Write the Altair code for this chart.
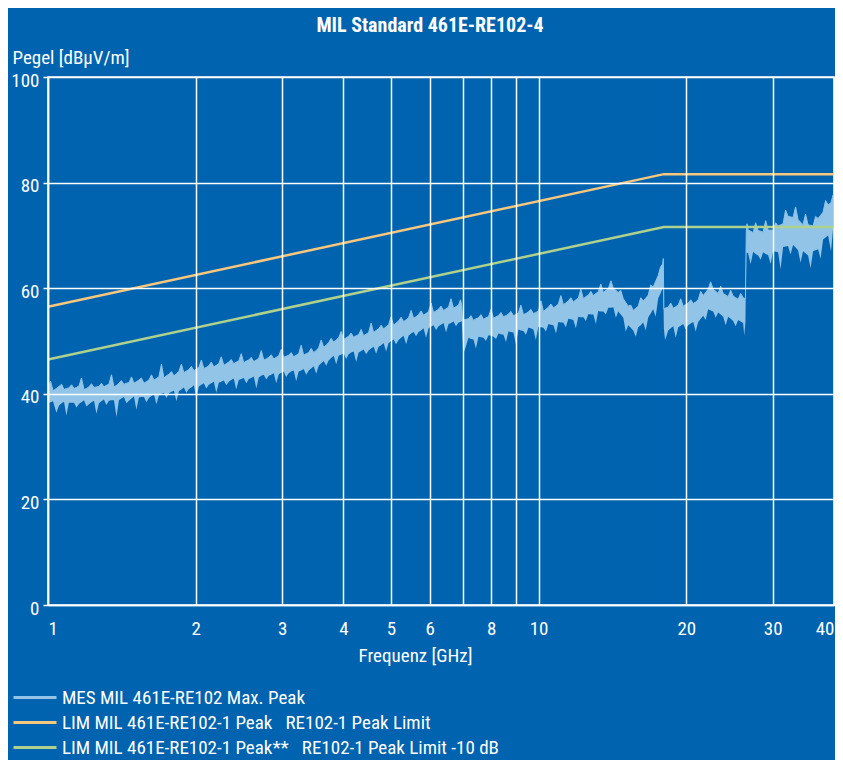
import altair as alt
import pandas as pd

# ---------------- data ----------------
# measured trace: core band (low / high envelope) in dBuV/m vs frequency in GHz
mes_freq = [
    1.000, 1.024, 1.053, 1.078, 1.103, 1.130, 1.157, 1.184, 1.212, 1.241,
    1.270, 1.300, 1.331, 1.363, 1.395, 1.428, 1.462, 1.497, 1.532, 1.569,
    1.606, 1.644, 1.683, 1.723, 1.764, 1.806, 1.848, 1.892, 1.937, 1.983,
    2.030, 2.078, 2.127, 2.178, 2.229, 2.282, 2.336, 2.391, 2.448, 2.506,
    2.566, 2.627, 2.689, 2.753, 2.818, 2.885, 2.953, 3.023, 3.094, 3.168,
    3.243, 3.320, 3.399, 3.480, 3.562, 3.647, 3.733, 3.822, 3.912, 4.005,
    4.100, 4.197, 4.297, 4.399, 4.503, 4.610, 4.719, 4.831, 4.946, 5.063,
    5.183, 5.306, 5.432, 5.561, 5.692, 5.827, 5.966, 6.107, 6.252, 6.400,
    6.552, 6.707, 6.866, 6.970,
    7.000, 7.196, 7.366, 7.541, 7.720, 7.903, 8.090, 8.282, 8.478, 8.679,
    8.885, 9.096, 9.311, 9.532, 9.758, 9.989, 10.23, 10.47, 10.72, 10.97,
    11.23, 11.50, 11.77, 12.05, 12.34, 12.63, 12.93, 13.23, 13.55, 13.87,
    14.20, 14.53, 14.88, 15.23, 15.59, 15.96, 16.34, 16.73, 17.12, 17.53,
    17.90,
    18.00, 18.37, 18.81, 19.26, 19.71, 20.18, 20.66, 21.15, 21.65, 22.16,
    22.69, 23.23, 23.78, 24.34, 24.92, 25.51, 26.11, 26.40,
    26.50, 26.73, 27.37, 28.02, 28.68, 29.36, 30.06, 30.77, 31.50, 32.24,
    33.01, 33.79, 34.59, 35.42, 36.26, 37.12, 38.00, 38.90, 40.00,
]
mes_low = [
    38.2, 38.6, 37.8, 38.5, 38.3, 38.3, 38.1, 38.8, 38.0, 38.7,
    38.2, 38.9, 38.7, 38.8, 38.8, 39.4, 38.7, 39.5, 39.3, 39.4,
    39.2, 39.9, 39.7, 40.2, 40.1, 40.6, 40.5, 41.2, 40.9, 41.6,
    41.4, 42.0, 41.7, 42.3, 42.1, 42.5, 42.3, 42.9, 42.6, 43.0,
    42.8, 43.3, 43.1, 43.6, 43.4, 43.9, 43.7, 44.2, 43.9, 44.4,
    44.2, 44.7, 44.4, 45.2, 45.3, 46.2, 46.3, 47.2, 47.2, 47.7,
    47.5, 48.0, 47.8, 48.4, 48.2, 48.9, 48.9, 49.6, 49.6, 50.3,
    50.2, 51.0, 51.0, 51.7, 51.7, 52.4, 52.4, 53.0, 52.8, 53.4,
    53.2, 53.7, 53.5, 53.8,
    50.2, 50.6, 50.3, 50.8, 50.6, 51.1, 50.8, 51.4, 51.2, 51.8,
    51.6, 52.2, 51.9, 52.5, 52.2, 52.7, 52.5, 53.2, 53.0, 53.6,
    53.5, 54.2, 54.0, 54.6, 54.5, 55.1, 55.0, 55.7, 55.6, 56.3,
    56.4, 55.6, 54.4, 53.0, 52.0, 52.6, 53.5, 54.5, 56.0, 58.1,
    60.0,
    52.4, 52.0, 52.8, 52.6, 53.2, 53.0, 53.6, 53.6, 54.8, 56.0,
    55.6, 55.4, 54.6, 54.6, 53.8, 54.0, 53.4, 53.6,
    66.8, 66.6, 66.9, 66.2, 66.8, 66.3, 67.0, 66.8, 67.8, 68.0,
    68.2, 67.2, 67.0, 66.2, 67.0, 67.4, 69.2, 70.0, 72.0,
]
mes_high = [
    41.0, 40.6, 41.4, 40.8, 41.1, 41.0, 41.5, 40.8, 41.3, 41.2,
    41.4, 41.3, 41.8, 41.3, 42.0, 41.8, 42.1, 42.0, 42.6, 42.0,
    42.6, 42.6, 43.2, 43.0, 43.7, 43.4, 44.2, 44.0, 44.6, 44.4,
    45.0, 44.8, 45.3, 45.1, 45.7, 45.4, 46.0, 45.7, 46.2, 45.9,
    46.4, 46.1, 46.7, 46.4, 46.9, 46.6, 47.2, 46.9, 47.3, 47.0,
    47.6, 47.3, 47.8, 47.8, 48.7, 48.8, 49.7, 49.8, 50.6, 50.3,
    50.9, 50.7, 51.2, 51.0, 51.6, 51.6, 52.3, 52.3, 53.1, 53.0,
    53.8, 53.7, 54.4, 54.3, 55.0, 54.9, 55.6, 55.4, 56.0, 55.8,
    56.4, 56.2, 56.8, 56.8,
    54.0, 54.2, 53.9, 54.4, 54.1, 54.6, 54.3, 54.8, 54.6, 55.1,
    54.8, 55.3, 55.0, 55.5, 55.2, 55.7, 55.6, 56.4, 56.3, 57.0,
    56.9, 57.6, 57.4, 58.1, 58.0, 58.7, 58.6, 59.3, 59.2, 59.9,
    60.0, 59.2, 58.0, 56.6, 55.8, 56.6, 57.6, 58.7, 60.2, 62.4,
    64.6,
    56.0, 56.4, 56.2, 56.8, 56.6, 57.2, 57.1, 57.8, 58.6, 59.8,
    59.8, 59.0, 59.0, 58.4, 58.5, 57.9, 58.2, 58.0,
    70.8, 71.0, 70.5, 70.9, 70.6, 71.0, 71.0, 71.8, 72.2, 73.6,
    73.4, 73.0, 72.0, 72.0, 71.8, 73.2, 74.4, 75.8, 76.6,
]

# measured trace: noise spikes between the points above (frequency, lower end, upper end)
spike_freq = [
    1.012, 1.040, 1.066, 1.090, 1.117, 1.143, 1.170, 1.198, 1.226, 1.255,
    1.285, 1.315, 1.347, 1.379, 1.411, 1.445, 1.480, 1.514, 1.550, 1.587,
    1.625, 1.663, 1.703, 1.743, 1.785, 1.827, 1.870, 1.914, 1.960, 2.006,
    2.054, 2.102, 2.152, 2.203, 2.255, 2.309, 2.363, 2.419, 2.477, 2.536,
    2.596, 2.658, 2.721, 2.785, 2.851, 2.919, 2.988, 3.058, 3.131, 3.205,
    3.281, 3.360, 3.439, 3.521, 3.604, 3.690, 3.777, 3.867, 3.958, 4.052,
    4.148, 4.247, 4.348, 4.451, 4.556, 4.664, 4.775, 4.888, 5.004, 5.122,
    5.244, 5.369, 5.496, 5.626, 5.759, 5.896, 6.036, 6.179, 6.325, 6.476,
    6.629, 6.786, 6.930,
    7.02, 7.10, 7.28, 7.45, 7.63, 7.81, 8.00, 8.19, 8.38, 8.58,
    8.78, 8.99, 9.20, 9.42, 9.64, 9.87, 10.11, 10.35, 10.59, 10.85,
    11.10, 11.36, 11.63, 11.91, 12.19, 12.48, 12.78, 13.08, 13.39, 13.71,
    14.04, 14.37, 14.70, 15.05, 15.41, 15.78, 16.15, 16.53, 16.92, 17.32,
    17.72, 17.95,
    18.10, 18.20, 18.59, 19.03, 19.48, 19.94, 20.42, 20.90, 21.40, 21.90,
    22.42, 22.96, 23.50, 24.06, 24.63, 25.21, 25.81, 26.25,
    26.60, 27.05, 27.69, 28.35, 29.02, 29.71, 30.41, 31.13, 31.87, 32.62,
    33.40, 34.19, 35.00, 35.84, 36.69, 37.56, 38.45, 39.45, 39.80,
]
spike_low = [
    38.4, 36.4, 38.2, 35.9, 38.3, 37.4, 38.4, 37.6, 38.4, 36.2,
    38.6, 37.9, 38.8, 35.6, 39.1, 38.2, 39.1, 37.0, 39.4, 38.4,
    39.6, 38.0, 40.0, 39.2, 40.4, 38.6, 40.8, 40.2, 41.2, 39.0,
    41.7, 41.0, 42.0, 40.2, 42.3, 41.6, 42.6, 40.8, 42.8, 42.0,
    43.0, 41.0, 43.4, 42.7, 43.6, 42.0, 44.0, 43.2, 44.2, 42.4,
    44.4, 43.6, 44.8, 43.8, 45.8, 45.3, 46.8, 45.6, 47.4, 46.6,
    47.8, 46.0, 48.1, 47.5, 48.6, 47.6, 49.2, 48.0, 50.0, 49.4,
    50.6, 49.4, 51.4, 50.9, 52.0, 50.6, 52.7, 52.1, 53.1, 51.6,
    53.4, 52.8, 53.6,
    47.6, 48.8, 50.4, 48.6, 50.7, 50.0, 51.0, 50.4, 51.3, 49.8,
    51.7, 49.4, 52.0, 51.2, 52.4, 50.2, 52.6, 51.8, 53.1, 51.4,
    53.5, 52.6, 54.1, 52.4, 54.5, 53.8, 55.0, 53.2, 55.6, 55.0,
    56.3, 54.4, 55.0, 51.8, 52.5, 50.8, 53.0, 52.0, 55.2, 54.6,
    59.0, 60.0,
    50.2, 50.8, 52.4, 50.6, 52.9, 52.2, 53.3, 51.8, 54.2, 54.0,
    55.8, 54.4, 55.0, 53.0, 54.2, 52.8, 53.7, 51.0,
    66.7, 64.6, 66.5, 65.4, 66.5, 64.6, 66.9, 63.6, 67.9, 66.4,
    67.7, 64.8, 66.6, 63.8, 67.2, 65.6, 69.6, 67.0, 71.0,
]
spike_high = [
    42.4, 41.0, 41.8, 41.0, 41.7, 41.2, 43.0, 41.0, 41.9, 41.3,
    42.0, 41.6, 43.6, 41.6, 42.5, 42.0, 43.2, 42.3, 43.0, 42.3,
    43.6, 42.9, 45.6, 43.4, 44.2, 43.8, 45.6, 44.3, 45.2, 44.7,
    46.4, 45.0, 46.0, 45.4, 47.0, 45.7, 46.5, 46.0, 47.6, 46.2,
    46.9, 46.4, 48.2, 46.6, 47.4, 46.9, 48.4, 47.1, 47.8, 47.3,
    49.2, 47.6, 48.6, 48.2, 50.2, 49.2, 50.5, 50.2, 51.8, 50.6,
    51.5, 51.0, 52.2, 51.3, 53.4, 52.0, 53.0, 52.7, 54.6, 53.4,
    54.5, 54.0, 55.8, 54.6, 55.7, 55.2, 57.2, 55.7, 56.6, 56.1,
    58.0, 56.5, 57.8,
    54.0, 54.1, 54.8, 54.2, 55.0, 54.4, 56.0, 54.6, 55.4, 54.8,
    55.6, 55.0, 56.8, 55.2, 56.0, 55.4, 57.6, 56.0, 57.0, 56.6,
    58.6, 57.2, 58.2, 57.8, 59.8, 58.4, 59.4, 59.0, 60.8, 59.6,
    61.4, 59.6, 59.6, 57.3, 56.8, 56.2, 58.2, 58.1, 60.6, 61.3,
    64.0, 65.6,
    56.2, 56.3, 57.2, 56.5, 58.0, 56.9, 57.8, 57.4, 59.4, 59.2,
    61.2, 59.4, 60.4, 58.7, 59.6, 58.2, 59.0, 58.1,
    72.2, 70.8, 72.4, 70.8, 72.8, 71.0, 72.4, 72.0, 74.8, 73.5,
    75.4, 72.5, 74.0, 71.9, 73.6, 73.8, 76.6, 76.2, 77.6,
]

lim_freq = [1.0, 18.0, 40.0]
lim_peak = [56.5, 81.6, 81.6]
lim_peak_10 = [46.5, 71.6, 71.6]

series_names = [
    "MES MIL 461E-RE102 Max. Peak",
    "LIM MIL 461E-RE102-1 Peak\u00a0\u00a0\u00a0RE102-1 Peak Limit",
    "LIM MIL 461E-RE102-1 Peak**\u00a0\u00a0\u00a0RE102-1 Peak Limit -10 dB",
]
series_colors = ["#91C4E7", "#F7C77E", "#AED18D"]
series_widths = [1.0, 2.5, 2.5]

x_ticks = [1, 2, 3, 4, 5, 6, 7, 8, 9, 10, 20, 30, 40]
y_ticks = [0, 20, 40, 60, 80, 100]

BG = "#0063AF"
FONT = "Roboto Condensed, Liberation Sans Narrow, DejaVu Sans Condensed, sans-serif"
FS = 19

# ---------------- tables ----------------
trace = pd.concat(
    [
        pd.DataFrame({"f": mes_freq, "lo": mes_low, "hi": mes_high}),
        pd.DataFrame({"f": spike_freq, "lo": spike_low, "hi": spike_high}),
    ],
    ignore_index=True,
).sort_values("f").reset_index(drop=True)

rows = []
for f, v in zip(trace["f"], trace["hi"]):
    rows.append({"series": series_names[0], "f": f, "v": v, "w": series_widths[0]})
for f, v in zip(lim_freq, lim_peak):
    rows.append({"series": series_names[1], "f": f, "v": v, "w": series_widths[1]})
for f, v in zip(lim_freq, lim_peak_10):
    rows.append({"series": series_names[2], "f": f, "v": v, "w": series_widths[2]})
lines = pd.DataFrame(rows)

xscale = alt.Scale(type="log", domain=[1, 40], nice=False)
yscale = alt.Scale(domain=[0, 100], nice=False)

xaxis = alt.Axis(
    values=x_ticks,
    format="~g",
    labelExpr="datum.value == 7 || datum.value == 9 ? '' : datum.label",
    title="Frequenz [GHz]",
    titleX=367, titleY=50, titleAlign="center", titleBaseline="middle",
    ticks=False, labelPadding=14, grid=True, zindex=1,
)
yaxis = alt.Axis(
    values=y_ticks,
    title="Pegel [dB\u00b5V/m]",
    titleAngle=0, titleAlign="left", titleBaseline="middle",
    titleX=-36, titleY=-20,
    tickSize=5, labelPadding=4, labelOffset=3, grid=True, zindex=1,
)

area = alt.Chart(trace).mark_area(color=series_colors[0], opacity=1, interpolate="linear").encode(
    x=alt.X("f:Q", scale=xscale, axis=xaxis),
    y=alt.Y("hi:Q", scale=yscale, axis=yaxis),
    y2="lo:Q",
)

line = alt.Chart(lines).mark_line(interpolate="linear").encode(
    x=alt.X("f:Q", scale=xscale),
    y=alt.Y("v:Q", scale=yscale),
    color=alt.Color(
        "series:N",
        scale=alt.Scale(domain=series_names, range=series_colors),
        legend=alt.Legend(
            title=None, orient="none", legendX=-36, legendY=608,
            direction="vertical",
            symbolType="stroke", symbolSize=1849, symbolStrokeWidth=3,
            labelFontSize=FS, labelFont=FONT, labelColor="white",
            labelOffset=4, labelLimit=0, rowPadding=0, padding=0,
            clipHeight=25,
        ),
    ),
    strokeWidth=alt.StrokeWidth("w:Q", scale=None, legend=None),
)

chart = (
    alt.layer(area, line)
    .properties(
        width=786, height=528,
        autosize=alt.AutoSizeParams(type="none"),
        padding={"left": 40, "top": 69, "right": 1, "bottom": 155},
        title=alt.TitleParams(
            "MIL Standard 461E-RE102-4", fontSize=20, fontWeight="bold",
            color="white", font=FONT, anchor="middle", dx=-11, offset=12,
        ),
        background=BG,
    )
    .configure_view(stroke="white", strokeWidth=1.5)
    .configure_axis(
        gridColor="white", gridWidth=1.5, gridOpacity=1,
        domainColor="white", domainWidth=1.5,
        tickColor="white", tickWidth=1.5,
        labelColor="white", titleColor="white",
        labelFont=FONT, titleFont=FONT,
        labelFontSize=FS, titleFontSize=FS, titleFontWeight="normal",
    )
)

chart.save("out.html", embed_options={"renderer": "svg", "actions": False})
